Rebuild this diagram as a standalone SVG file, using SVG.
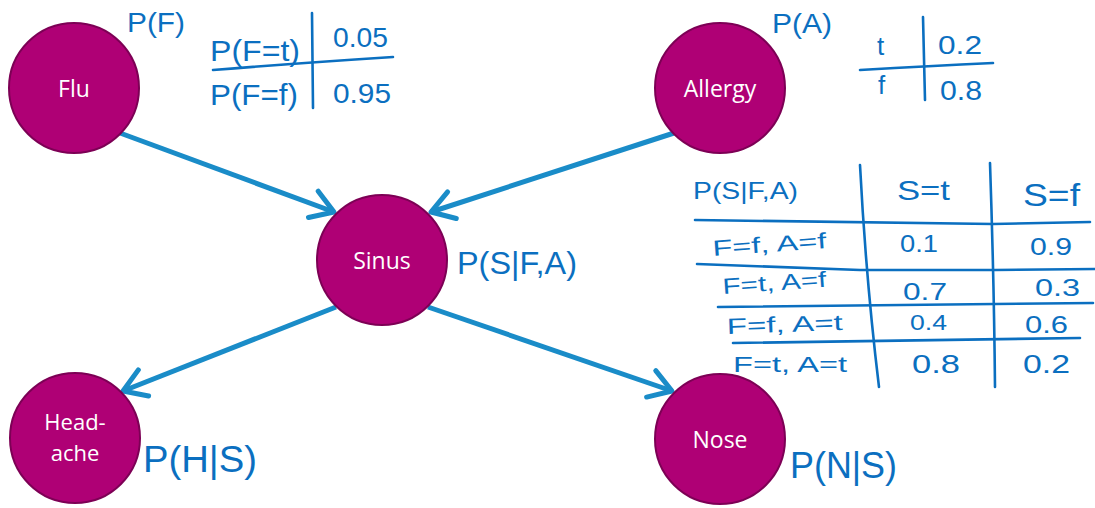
<svg xmlns="http://www.w3.org/2000/svg" width="1095" height="508" viewBox="0 0 1095 508">
  <style>
    .node circle { fill: #af0075; stroke: #7d0055; stroke-width: 2; }
    .node text { fill: #ffffff; font-family: "Open Sans", "Noto Sans", sans-serif; font-size: 23px; text-anchor: middle; }
    .node text.two-line { font-size: 22px; }
    .edge { stroke: #1a8cc8; stroke-width: 5; fill: none; }
    .ink { fill: #0b6fc0; font-family: "Liberation Sans", "DejaVu Sans", sans-serif; }
    .rule { stroke: #0b6fc0; stroke-width: 2.6; fill: none; stroke-linecap: round; stroke-linejoin: round; }
  </style>
  <defs>
    <marker id="chevron" markerUnits="userSpaceOnUse" markerWidth="40" markerHeight="40" refX="0" refY="0" viewBox="-30 -20 40 40" orient="auto" overflow="visible">
      <path d="M-22 -14 L0 0 L-22 14" fill="none" stroke="#1a8cc8" stroke-width="5" stroke-linecap="round" stroke-linejoin="round"/>
    </marker>
  </defs>

  <rect width="1095" height="508" fill="#ffffff"/>

  <!-- connectors -->
  <g id="connectors">
    <path class="edge" d="M120 133 L334 212" marker-end="url(#chevron)"/>
    <path class="edge" d="M674 133 L431 212" marker-end="url(#chevron)"/>
    <path class="edge" d="M336 307 L123 391" marker-end="url(#chevron)"/>
    <path class="edge" d="M428 307 L672 391" marker-end="url(#chevron)"/>
  </g>

  <!-- nodes -->
  <g id="flu" class="node">
    <circle cx="74" cy="88" r="65"/>
    <text x="74" y="97">Flu</text>
  </g>
  <g id="allergy" class="node">
    <circle cx="720" cy="88" r="65"/>
    <text x="720" y="97">Allergy</text>
  </g>
  <g id="sinus" class="node">
    <circle cx="382" cy="260" r="65"/>
    <text x="382" y="269">Sinus</text>
  </g>
  <g id="headache" class="node">
    <circle cx="75" cy="438" r="65"/>
    <text class="two-line" x="75" y="430">Head-</text>
    <text class="two-line" x="75" y="461">ache</text>
  </g>
  <g id="nose" class="node">
    <circle cx="720" cy="439" r="65"/>
    <text x="720" y="448">Nose</text>
  </g>

  <!-- P(F) table -->
  <g id="table-flu">
    <text class="ink" x="127" y="32" font-size="28" textLength="58" lengthAdjust="spacingAndGlyphs">P(F)</text>
    <text class="ink" x="210" y="61" font-size="30" textLength="90" lengthAdjust="spacingAndGlyphs">P(F=t)</text>
    <text class="ink" x="333" y="47" font-size="28" textLength="55" lengthAdjust="spacingAndGlyphs">0.05</text>
    <text class="ink" x="210" y="105" font-size="30" textLength="88" lengthAdjust="spacingAndGlyphs">P(F=f)</text>
    <text class="ink" x="333" y="103" font-size="28" textLength="58" lengthAdjust="spacingAndGlyphs">0.95</text>
    <path class="rule" d="M312 13 L313 108"/>
    <path class="rule" d="M213 70 Q300 63 393 57"/>
  </g>

  <!-- P(A) table -->
  <g id="table-allergy">
    <text class="ink" x="772" y="33" font-size="28" textLength="60" lengthAdjust="spacingAndGlyphs">P(A)</text>
    <text class="ink" x="877" y="55" font-size="26">t</text>
    <text class="ink" x="938" y="54" font-size="26" textLength="44" lengthAdjust="spacingAndGlyphs">0.2</text>
    <text class="ink" x="878" y="94" font-size="26">f</text>
    <text class="ink" x="940" y="100" font-size="28" textLength="42" lengthAdjust="spacingAndGlyphs">0.8</text>
    <path class="rule" d="M923 17 L925 100"/>
    <path class="rule" d="M860 70 Q930 66 993 63"/>
  </g>

  <!-- P(S|F,A) table -->
  <g id="table-sinus">
    <text class="ink" x="693" y="199" font-size="24" textLength="105" lengthAdjust="spacingAndGlyphs">P(S|F,A)</text>
    <text class="ink" x="897" y="200" font-size="28" textLength="53" lengthAdjust="spacingAndGlyphs">S=t</text>
    <text class="ink" x="1023" y="206" font-size="32" textLength="57" lengthAdjust="spacingAndGlyphs">S=f</text>

    <text class="ink" x="713" y="256" font-size="22" textLength="114" lengthAdjust="spacingAndGlyphs" transform="rotate(-4 713 256)">F=f, A=f</text>
    <text class="ink" x="900" y="252" font-size="24" textLength="38" lengthAdjust="spacingAndGlyphs">0.1</text>
    <text class="ink" x="1030" y="255" font-size="24" textLength="42" lengthAdjust="spacingAndGlyphs">0.9</text>

    <text class="ink" x="723" y="294" font-size="22" textLength="104" lengthAdjust="spacingAndGlyphs" transform="rotate(-4 723 294)">F=t, A=f</text>
    <text class="ink" x="903" y="300" font-size="24" textLength="44" lengthAdjust="spacingAndGlyphs">0.7</text>
    <text class="ink" x="1035" y="296" font-size="24" textLength="45" lengthAdjust="spacingAndGlyphs">0.3</text>

    <text class="ink" x="727" y="334" font-size="22" textLength="116" lengthAdjust="spacingAndGlyphs" transform="rotate(-2 727 334)">F=f, A=t</text>
    <text class="ink" x="910" y="330" font-size="22" textLength="37" lengthAdjust="spacingAndGlyphs">0.4</text>
    <text class="ink" x="1025" y="333" font-size="24" textLength="43" lengthAdjust="spacingAndGlyphs">0.6</text>

    <text class="ink" x="733" y="372" font-size="22" textLength="114" lengthAdjust="spacingAndGlyphs">F=t, A=t</text>
    <text class="ink" x="912" y="373" font-size="26" textLength="48" lengthAdjust="spacingAndGlyphs">0.8</text>
    <text class="ink" x="1023" y="373" font-size="26" textLength="47" lengthAdjust="spacingAndGlyphs">0.2</text>

    <path class="rule" d="M860 165 Q866 280 879 387"/>
    <path class="rule" d="M990 163 Q994 280 995 387"/>
    <path class="rule" d="M695 220 L993 224 L1090 222"/>
    <path class="rule" d="M697 264 L860 270 L995 270 L1095 269"/>
    <path class="rule" d="M718 307 L1093 303"/>
    <path class="rule" d="M733 343 L1080 338"/>
  </g>

  <!-- conditional labels beside nodes -->
  <text class="ink" x="457" y="274" font-size="32" textLength="120" lengthAdjust="spacingAndGlyphs">P(S|F,A)</text>
  <text class="ink" x="143" y="472" font-size="36" textLength="114" lengthAdjust="spacingAndGlyphs">P(H|S)</text>
  <text class="ink" x="790" y="478" font-size="36" textLength="107" lengthAdjust="spacingAndGlyphs">P(N|S)</text>
</svg>
